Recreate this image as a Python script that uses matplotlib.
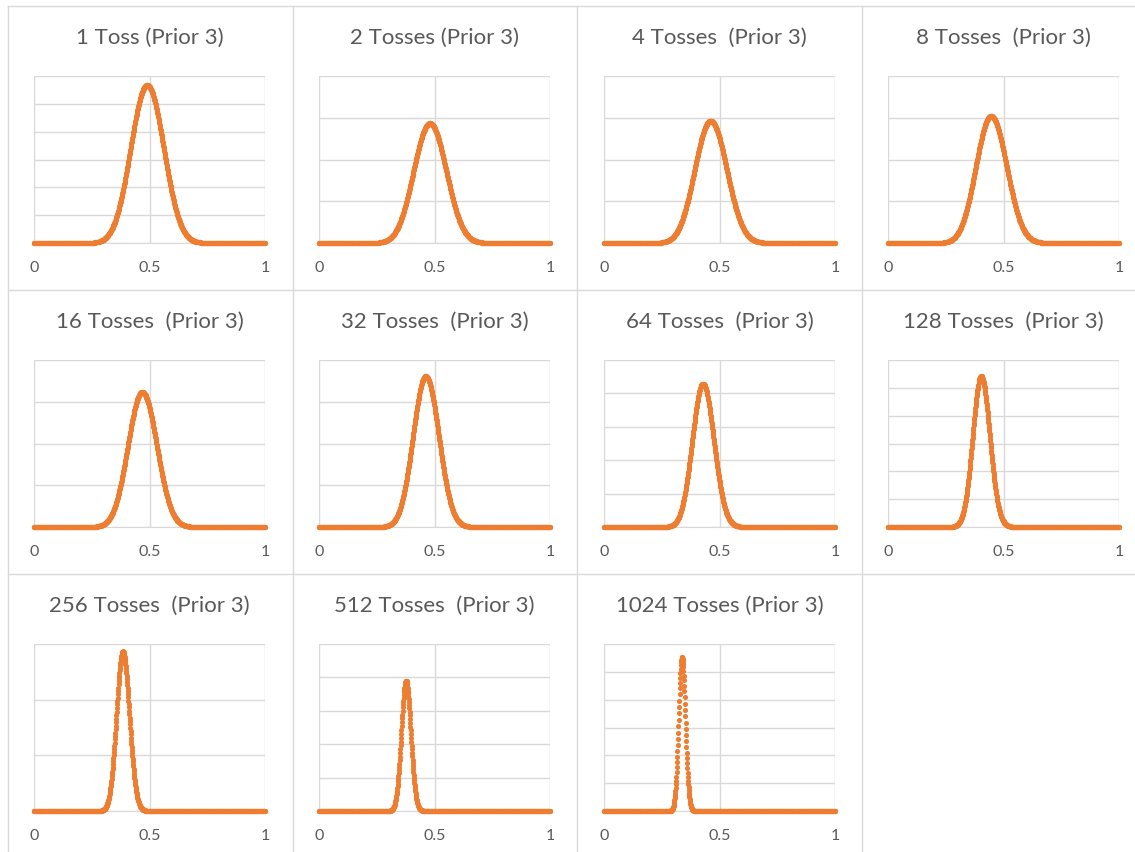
import math
import numpy as np
import matplotlib
matplotlib.use("Agg")
import matplotlib.pyplot as plt

OUTPUT_IMAGE = "out.png"

# coin toss posteriors: Beta(prior + heads, prior + tails)
PRIOR_HEADS = 25
PRIOR_TAILS = 25
TOSSES = [1, 2, 4, 8, 16, 32, 64, 128, 256, 512, 1024]
HEADS = [0, 0, 0, 1, 6, 13, 24, 47, 93, 187, 338]
TITLES = [
    "1 Toss (Prior 3)", "2 Tosses (Prior 3)", "4 Tosses  (Prior 3)",
    "8 Tosses  (Prior 3)", "16 Tosses  (Prior 3)", "32 Tosses  (Prior 3)",
    "64 Tosses  (Prior 3)", "128 Tosses  (Prior 3)", "256 Tosses  (Prior 3)",
    "512 Tosses  (Prior 3)", "1024 Tosses (Prior 3)",
]
Y_MAX = [6, 8, 8, 8, 8, 8, 10, 12, 15, 25, 30]
Y_STEP = [1, 2, 2, 2, 2, 2, 2, 2, 5, 5, 5]
X_TICKS = [0, 0.5, 1]
X_LABELS = ["0", "0.5", "1"]

ORANGE = "#ED7D31"
GRID = "#D9D9D9"
TEXT = "#595959"

W, H = 1135, 853
COL_LEFT = [34, 319, 604, 888]
ROW_TOP = [77, 361, 645]
BOX_W, BOX_H = 231, 167


def beta_pdf(x, a, b):
    lnb = math.lgamma(a) + math.lgamma(b) - math.lgamma(a + b)
    y = np.zeros_like(x)
    inside = (x > 0) & (x < 1)
    xi = x[inside]
    y[inside] = np.exp((a - 1) * np.log(xi) + (b - 1) * np.log(1 - xi) - lnb)
    return y


def main():
    plt.rcParams["font.family"] = ["Lato", "DejaVu Sans"]
    fig = plt.figure(figsize=(W / 100, H / 100), dpi=100)
    fig.patch.set_facecolor("white")

    # chart borders
    for xv in [8, 293, 577, 862]:
        fig.add_artist(plt.Line2D([xv / W, xv / W], [0, 1 - 7 / H],
                                  color=GRID, lw=1, transform=fig.transFigure))
    for yv in [7, 291, 575]:
        fig.add_artist(plt.Line2D([8 / W, 1], [1 - yv / H, 1 - yv / H],
                                  color=GRID, lw=1, transform=fig.transFigure))

    x = np.linspace(0, 1, 1001)

    for i, n in enumerate(TOSSES):
        r, c = divmod(i, 4)
        left = COL_LEFT[c] / W
        bottom = 1 - (ROW_TOP[r] + BOX_H) / H
        ax = fig.add_axes([left, bottom, BOX_W / W, BOX_H / H])

        a = PRIOR_HEADS + HEADS[i]
        b = PRIOR_TAILS + n - HEADS[i]
        y = beta_pdf(x, a, b)

        ax.plot(x, y, linestyle="none", marker="o", markersize=3.7,
                color=ORANGE, markeredgewidth=0, clip_on=False, zorder=3)

        ax.set_xlim(0, 1)
        ax.set_ylim(0, Y_MAX[i])
        ax.set_xticks(X_TICKS)
        ax.set_xticklabels(X_LABELS, fontsize=11.5, color=TEXT)
        ax.set_yticks(np.arange(0, Y_MAX[i] + Y_STEP[i] / 2, Y_STEP[i]))
        ax.set_yticklabels([])
        ax.tick_params(axis="both", length=0)
        ax.tick_params(axis="x", pad=12.5)
        ax.grid(True, color=GRID, lw=1)
        ax.set_axisbelow(True)
        for side in ["top", "left", "right"]:
            ax.spines[side].set_visible(False)
        ax.spines["bottom"].set_color(GRID)

        fig.text((COL_LEFT[c] + BOX_W / 2) / W, 1 - (ROW_TOP[r] - 39) / H,
                 TITLES[i], ha="center", va="center", fontsize=16, color=TEXT)

    plt.savefig(OUTPUT_IMAGE, dpi=100)
    plt.close()


if __name__ == "__main__":
    main()
